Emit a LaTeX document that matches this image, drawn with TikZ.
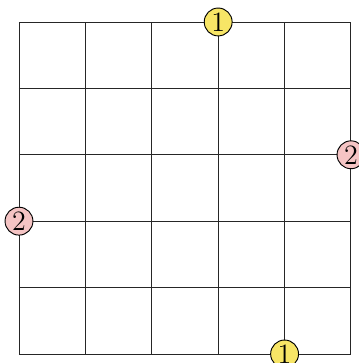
\documentclass[tikz,border=0pt]{standalone}
\usepackage{tikz}
\usetikzlibrary{positioning}

\definecolor{tokyellow}{RGB}{247,229,102}
\definecolor{tokpink}{RGB}{245,196,196}

\begin{document}
\begin{tikzpicture}[
      x=1cm, y=1cm,
      gridline/.style={thin, black!85},
      tokone/.style={circle, draw, thin, fill=tokyellow, minimum size=0.42cm, inner sep=0pt, font=\large},
      toktwo/.style={circle, draw, thin, fill=tokpink, minimum size=0.42cm, inner sep=0pt, font=\large}
    ]
    \useasboundingbox (-0.286,-0.136) rectangle (5.12,5.331);

    \draw[gridline] (0,0) grid (5,5);

    \node[tokone] (topone) at (3,5) {1};
    \node[tokone] (botone) at (4,0) {1};
    \node[toktwo] (righttwo) at (5,3) {2};
    \node[toktwo] (lefttwo) at (0,2) {2};
  \end{tikzpicture}
\end{document}
